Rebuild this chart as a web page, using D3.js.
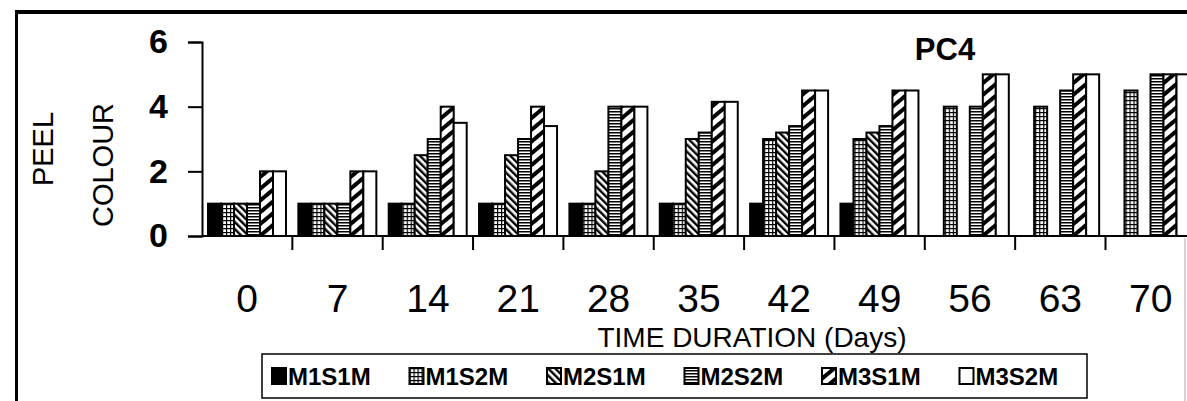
<!DOCTYPE html>
<html>
<head>
<meta charset="utf-8">
<script src="https://cdn.jsdelivr.net/npm/d3@7"></script>
<style>
  body { margin: 0; background: #fff; }
  svg { display: block; font-family: "Liberation Sans", Arial, sans-serif; }
</style>
</head>
<body>
<svg width="1187" height="401"></svg>
<script>
const days = ['0', '7', '14', '21', '28', '35', '42', '49', '56', '63', '70'];
const seriesNames = ['M1S1M', 'M1S2M', 'M2S1M', 'M2S2M', 'M3S1M', 'M3S2M'];
const m1s1m = [1, 1, 1, 1, 1, 1, 1, 1, 0, 0, 0];
const m1s2m = [1, 1, 1, 1, 1, 1, 3, 3, 4, 4, 4.5];
const m2s1m = [1, 1, 2.5, 2.5, 2, 3, 3.2, 3.2, 0, 0, 0];
const m2s2m = [1, 1, 3, 3, 4, 3.2, 3.4, 3.4, 4, 4.5, 5];
const m3s1m = [2, 2, 4, 4, 4, 4.15, 4.5, 4.5, 5, 5, 5];
const m3s2m = [2, 2, 3.5, 3.4, 4, 4.15, 4.5, 4.5, 5, 5, 5];
const yTicks = [0, 2, 4, 6];

const seriesValues = [m1s1m, m1s2m, m2s1m, m2s2m, m3s1m, m3s2m];

const svg = d3.select('svg');
const width = +svg.attr('width');
const height = +svg.attr('height');

// fill patterns, one per series
const defs = svg.append('defs');

const dots = defs.append('pattern').attr('id', 'p1')
  .attr('patternUnits', 'userSpaceOnUse').attr('width', 4).attr('height', 4);
dots.append('rect').attr('width', 4).attr('height', 4).attr('fill', '#000');
dots.append('rect').attr('x', 1.2).attr('y', 1.2).attr('width', 2.8).attr('height', 2.8).attr('fill', '#fff');

const back = defs.append('pattern').attr('id', 'p2')
  .attr('patternUnits', 'userSpaceOnUse').attr('width', 5).attr('height', 5)
  .attr('patternTransform', 'rotate(-45)');
back.append('rect').attr('width', 5).attr('height', 5).attr('fill', '#fff');
back.append('rect').attr('width', 2.4).attr('height', 5).attr('fill', '#000');

const horiz = defs.append('pattern').attr('id', 'p3')
  .attr('patternUnits', 'userSpaceOnUse').attr('width', 4).attr('height', 3);
horiz.append('rect').attr('width', 4).attr('height', 3).attr('fill', '#fff');
horiz.append('rect').attr('width', 4).attr('height', 1.5).attr('fill', '#000');

const fwd = defs.append('pattern').attr('id', 'p4')
  .attr('patternUnits', 'userSpaceOnUse').attr('width', 9).attr('height', 9)
  .attr('patternTransform', 'rotate(-40)');
fwd.append('rect').attr('width', 9).attr('height', 9).attr('fill', '#fff');
fwd.append('rect').attr('width', 9).attr('height', 4).attr('fill', '#000');

const fills = ['#000', 'url(#p1)', 'url(#p2)', 'url(#p3)', 'url(#p4)', '#fff'];

// scales
const axisX = 202;
const bandW = 90.35;
const x0 = d3.scaleBand()
  .domain(days)
  .range([axisX, axisX + bandW * days.length]);

const x1 = d3.scaleBand()
  .domain(seriesNames)
  .range([6, 84]);

const y = d3.scaleLinear()
  .domain([0, 6])
  .range([236, 42]);

// frame
svg.append('line')
  .attr('x1', 15).attr('x2', width).attr('y1', 12).attr('y2', 12)
  .attr('stroke', '#000').attr('stroke-width', 4);
svg.append('line')
  .attr('x1', 16.5).attr('x2', 16.5).attr('y1', 10).attr('y2', height)
  .attr('stroke', '#000').attr('stroke-width', 3);
svg.append('line')
  .attr('x1', 1185).attr('x2', 1185).attr('y1', 238).attr('y2', height)
  .attr('stroke', '#aaa').attr('stroke-width', 1);

// bars
const groups = svg.append('g').selectAll('g')
  .data(days)
  .join('g')
    .attr('transform', d => `translate(${x0(d)},0)`);

groups.selectAll('rect')
  .data((d, i) => seriesNames.map((s, j) => ({ s, j, v: seriesValues[j][i] })).filter(e => e.v > 0))
  .join('rect')
    .attr('x', e => x1(e.s))
    .attr('y', e => y(e.v))
    .attr('width', x1.bandwidth())
    .attr('height', e => y(0) - y(e.v))
    .attr('fill', e => fills[e.j])
    .attr('stroke', '#000')
    .attr('stroke-width', 2);

// y axis
const yAxisG = svg.append('g')
  .attr('transform', `translate(${axisX},0)`)
  .call(d3.axisLeft(y).tickValues(yTicks).tickFormat(d3.format('d')).tickSize(14).tickPadding(20));
yAxisG.select('.domain').attr('stroke-width', 2);
yAxisG.selectAll('.tick line').attr('stroke-width', 2);
yAxisG.selectAll('.tick text')
  .attr('font-size', 34)
  .attr('font-weight', 'bold')
  .attr('font-family', '"Liberation Sans", Arial, sans-serif')
  .attr('fill', '#000');

// x axis
const xAxisG = svg.append('g')
  .attr('transform', `translate(0,${y(0)})`)
  .call(d3.axisBottom(x0).tickSize(0).tickPadding(48));
xAxisG.select('.domain')
  .attr('d', `M${axisX},0H${width}`)
  .attr('stroke-width', 2);
xAxisG.selectAll('.tick text')
  .attr('font-size', 39)
  .attr('font-family', '"Liberation Sans", Arial, sans-serif')
  .attr('fill', '#000');

xAxisG.selectAll('line.sep')
  .data(days)
  .join('line')
    .attr('class', 'sep')
    .attr('x1', d => x0(d) + x0.bandwidth())
    .attr('x2', d => x0(d) + x0.bandwidth())
    .attr('y1', 0).attr('y2', 14)
    .attr('stroke', '#000').attr('stroke-width', 2);

// titles
svg.append('text')
  .attr('x', 752).attr('y', 347)
  .attr('text-anchor', 'middle')
  .attr('font-size', 28)
  .text('TIME DURATION (Days)');

svg.append('text')
  .attr('transform', 'translate(53,149) rotate(-90)')
  .attr('text-anchor', 'middle')
  .attr('font-size', 29)
  .text('PEEL');

svg.append('text')
  .attr('transform', 'translate(113,165) rotate(-90)')
  .attr('text-anchor', 'middle')
  .attr('font-size', 29)
  .text('COLOUR');

svg.append('text')
  .attr('x', 945).attr('y', 60)
  .attr('text-anchor', 'middle')
  .attr('font-size', 31)
  .attr('font-weight', 'bold')
  .text('PC4');

// legend
const legX = d3.scaleBand()
  .domain(seriesNames)
  .range([262, 1087]);

const legend = svg.append('g');
legend.append('rect')
  .attr('x', 262).attr('y', 354)
  .attr('width', 1087 - 262).attr('height', 44)
  .attr('fill', '#fff').attr('stroke', '#000').attr('stroke-width', 1.5);

const items = legend.selectAll('g.item')
  .data(seriesNames)
  .join('g')
    .attr('class', 'item')
    .attr('transform', d => `translate(${legX(d) + 10},376)`);

items.append('rect')
  .attr('x', 0).attr('y', -8)
  .attr('width', 14).attr('height', 16)
  .attr('fill', (d, i) => fills[i])
  .attr('stroke', '#000').attr('stroke-width', 2);

items.append('text')
  .attr('x', 16).attr('y', 9)
  .attr('font-size', 24)
  .attr('font-weight', 'bold')
  .text(d => d);
</script>
</body>
</html>
